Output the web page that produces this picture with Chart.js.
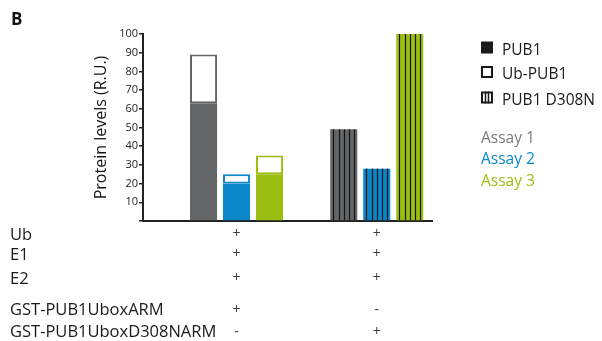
<!DOCTYPE html>
<html>
<head>
<meta charset="utf-8">
<script src="https://cdn.jsdelivr.net/npm/chart.js@4"></script>
<style>
  html, body { margin: 0; padding: 0; background: #fff; }
  #wrap { position: relative; width: 602px; height: 341px; }
</style>
</head>
<body>
<div id="wrap"><canvas id="myChart" width="602" height="341"></canvas></div>
<script>
// column positions of the two reactions on the x axis
const groups = [1, 2];

const assays = ["Assay 1", "Assay 2", "Assay 3"];
const assayColors = ["#646567", "#0a86c9", "#9cbe12"];

// reaction 1 (GST-PUB1UboxARM): PUB1 with Ub-PUB1 stacked on top
const pub1 = [63, 20, 25];
const ubPub1 = [26, 5, 10];
// reaction 2 (GST-PUB1UboxD308NARM)
const pub1D308N = [49, 28, 100];

const yTicks = [0, 10, 20, 30, 40, 50, 60, 70, 80, 90, 100];

const markerLabels = ["PUB1", "Ub-PUB1", "PUB1 D308N"];

const rowLabels = ["Ub", "E1", "E2", "GST-PUB1UboxARM", "GST-PUB1UboxD308NARM"];
const signsGroup1 = ["+", "+", "+", "+", "-"];
const signsGroup2 = ["+", "+", "+", "-", "+"];

const FONT = "'Open Sans', 'Noto Sans', sans-serif";

var datasets = [];
assays.forEach(function (name, i) {
    datasets.push({
        label: name + " PUB1",
        stack: "s" + i,
        data: [{ x: groups[0], y: pub1[i] }],
        backgroundColor: assayColors[i],
        borderWidth: 0,
    });
    datasets.push({
        label: name + " Ub-PUB1",
        stack: "s" + i,
        data: [{ x: groups[0], y: ubPub1[i] }],
        backgroundColor: "#ffffff",
        borderColor: assayColors[i],
        borderWidth: 2,
        borderSkipped: false,
    });
    datasets.push({
        label: name + " PUB1 D308N",
        stack: "s" + i,
        hatch: true,
        data: [{ x: groups[1], y: pub1D308N[i] }],
        backgroundColor: assayColors[i],
        borderWidth: 0,
    });
});

// vertical stripes on the D308N bars, placed from each bar's own geometry
const hatchPlugin = {
    id: "hatch",
    afterDatasetsDraw(chart) {
        const ctx = chart.ctx;
        chart.data.datasets.forEach(function (ds, i) {
            if (!ds.hatch) return;
            chart.getDatasetMeta(i).data.forEach(function (el) {
                const p = el.getProps(["x", "y", "base", "width"], true);
                const left = p.x - p.width / 2;
                ctx.save();
                ctx.strokeStyle = "#141414";
                ctx.lineWidth = 1.2;
                for (let k = 0; k < 5; k++) {
                    const lx = Math.round(left + p.width * (0.12 + k * 0.19)) + 0.5;
                    ctx.beginPath();
                    ctx.moveTo(lx, p.y);
                    ctx.lineTo(lx, p.base);
                    ctx.stroke();
                }
                ctx.restore();
            });
        });
    },
};

// panel letter, legend and the reaction table under the axis
const extrasPlugin = {
    id: "extras",
    afterDraw(chart) {
        const ctx = chart.ctx;
        const xs = chart.scales.x;
        ctx.save();

        ctx.fillStyle = "#111";
        ctx.font = "bold 17px " + FONT;
        ctx.textBaseline = "alphabetic";
        ctx.fillText("B", 11, 25);

        // marker legend
        const legY = [54.5, 79, 104.5];
        ctx.font = "15.5px " + FONT;
        markerLabels.forEach(function (lab, i) {
            const sx = 481, sy = legY[i] - 13;
            if (i === 0) {
                ctx.fillStyle = "#1a1a1a";
                ctx.fillRect(sx, sy, 12, 12);
            } else {
                ctx.strokeStyle = "#1a1a1a";
                ctx.lineWidth = 2;
                ctx.strokeRect(sx + 1, sy + 1, 10, 10);
                if (i === 2) {
                    ctx.lineWidth = 1.5;
                    ctx.beginPath();
                    ctx.moveTo(sx + 4.5, sy); ctx.lineTo(sx + 4.5, sy + 12);
                    ctx.moveTo(sx + 7.5, sy); ctx.lineTo(sx + 7.5, sy + 12);
                    ctx.stroke();
                }
            }
            ctx.fillStyle = "#1a1a1a";
            ctx.fillText(lab, 502, legY[i]);
        });

        const assayY = [142.5, 163.5, 185.5];
        assays.forEach(function (name, i) {
            ctx.fillStyle = assayColors[i] === "#646567" ? "#7a7a7c" : assayColors[i];
            ctx.fillText(name, 481, assayY[i]);
        });

        // reaction table
        const rowBase = [239.5, 259.5, 283.5, 315, 337];
        ctx.fillStyle = "#1a1a1a";
        ctx.font = "16.5px " + FONT;
        rowLabels.forEach(function (lab, i) {
            ctx.fillText(lab, 10, rowBase[i]);
        });
        ctx.fillStyle = "#3a3a3a";
        ctx.font = "14px " + FONT;
        ctx.textAlign = "center";
        const col1 = xs.getPixelForValue(groups[0]);
        const col2 = xs.getPixelForValue(groups[1]);
        rowBase.forEach(function (b, i) {
            ctx.fillText(signsGroup1[i], col1, b - 1.5);
            ctx.fillText(signsGroup2[i], col2, b - 1.5);
        });
        ctx.restore();
    },
};

var ctx = document.getElementById("myChart").getContext("2d");
var myChart = new Chart(ctx, {
    type: "bar",
    data: { datasets: datasets },
    plugins: [hatchPlugin, extrasPlugin],
    options: {
        responsive: false,
        animation: false,
        events: [],
        categoryPercentage: 0.706,
        barPercentage: 0.82,
        layout: { padding: { left: 88, top: 34, right: 170, bottom: 120 } },
        plugins: { legend: { display: false }, tooltip: { enabled: false } },
        scales: {
            x: {
                type: "linear",
                offset: false,
                min: 0.333,
                max: 2.394,
                afterBuildTicks: function (s) {
                    s.ticks = groups.map(function (v) { return { value: v }; });
                },
                ticks: { display: false },
                grid: { display: false, drawTicks: false },
                border: { display: true, color: "#222", width: 2 },
            },
            y: {
                stacked: true,
                min: 0,
                max: 100,
                afterBuildTicks: function (s) {
                    s.ticks = yTicks.map(function (v) { return { value: v }; });
                },
                afterFit: function (s) { s.width = 55; },
                ticks: {
                    padding: 1,
                    color: "#222",
                    font: { family: FONT, size: 11 },
                    callback: function (v) { return v === 0 ? "" : v; },
                },
                grid: {
                    drawOnChartArea: false,
                    drawTicks: true,
                    tickLength: 4,
                    color: "#222",
                    lineWidth: 1.5,
                },
                border: { display: true, color: "#222", width: 2 },
                title: {
                    display: true,
                    text: "Protein levels (R.U.)",
                    color: "#111",
                    font: { family: FONT, size: 16 },
                    padding: { top: 4, bottom: 0 },
                },
            },
        },
    },
});
</script>
</body>
</html>
